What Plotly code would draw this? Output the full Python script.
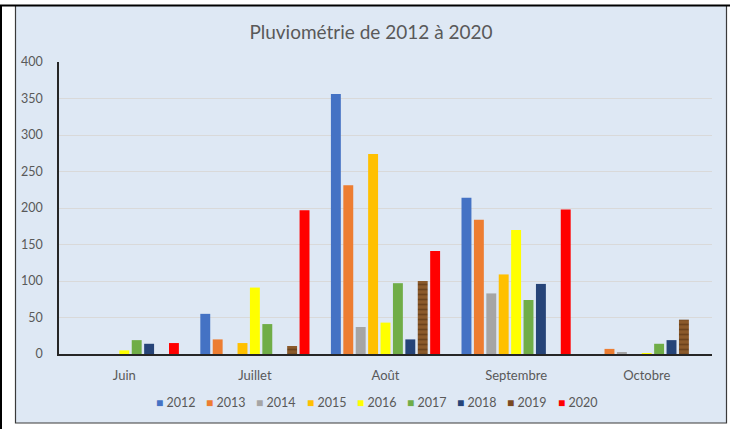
import plotly.graph_objects as go

categories = ["Juin", "Juillet", "Août", "Septembre", "Octobre"]
years = ["2012", "2013", "2014", "2015", "2016", "2017", "2018", "2019", "2020"]

v2012 = [0, 55, 356, 214, 0]
v2013 = [0, 20, 231, 184, 7]
v2014 = [0, 0, 37, 83, 2]
v2015 = [0, 15, 274, 109, 0]
v2016 = [5, 91, 43, 170, 1]
v2017 = [19, 41, 97, 74, 14]
v2018 = [14, 0, 20, 96, 19]
v2019 = [0, 11, 100, 0, 47]
v2020 = [15, 197, 141, 198, 0]
series = [v2012, v2013, v2014, v2015, v2016, v2017, v2018, v2019, v2020]

colors = ["#4472C4", "#ED7D31", "#A5A5A5", "#FFC000", "#FFFF00",
          "#70AD47", "#264478", "#8B5A2B", "#FF0000"]

yticks = [0, 50, 100, 150, 200, 250, 300, 350, 400]

W, H = 730, 429
def px(x):
    return x / W
def py(y):
    return 1 - y / H

FONT = "Lato, 'Open Sans', sans-serif"
GREY = "#595959"

fig = go.Figure()
for name, vals, col in zip(years, series, colors):
    marker = dict(color=col, line=dict(width=0))
    if name == "2019":
        marker["pattern"] = dict(shape="-", fgcolor="#4E2C10", size=5, solidity=0.35)
    fig.add_trace(go.Bar(x=categories, y=vals, name=name, marker=marker,
                         showlegend=False))

shapes = [
    # chart area background + border
    dict(type="rect", xref="paper", yref="paper", layer="below",
         x0=px(15.5), x1=px(726.5), y0=py(423), y1=py(5.5),
         fillcolor="#DEE8F4", line=dict(color="#3A3A3A", width=1.2)),
    # top black line
    dict(type="line", xref="paper", yref="paper", layer="above",
         x0=0, x1=1, y0=py(5.5), y1=py(5.5), line=dict(color="#000000", width=2)),
    # left black band
    dict(type="rect", xref="paper", yref="paper", layer="above",
         x0=0, x1=px(2), y0=0, y1=py(5), fillcolor="#000000", line=dict(width=0)),
]

annotations = []
legend_colors = colors[:7] + ["#7B4A22"] + colors[8:]
for i, (name, col) in enumerate(zip(years, legend_colors)):
    annotations.append(dict(
        xref="paper", yref="paper", x=px(154 + 50.2 * i), y=py(402),
        xanchor="left", yanchor="middle", showarrow=False,
        text=f"<span style='color:{col};font-size:12px'>■</span> {name}",
        font=dict(family=FONT, size=12.5, color=GREY)))

fig.update_layout(
    width=W, height=H, autosize=False,
    margin=dict(l=0, r=0, t=0, b=0, pad=0, autoexpand=False),
    paper_bgcolor="#FFFFFF",
    plot_bgcolor="rgba(0,0,0,0)",
    barmode="group", bargap=0.145, bargroupgap=0.2,
    title=dict(text="Pluviométrie de 2012 à 2020", x=px(371), y=py(32),
               xanchor="center", yanchor="middle", automargin=False,
               font=dict(family=FONT, size=19, color=GREY)),
    xaxis=dict(domain=[px(59), px(712)], showline=True, linecolor="#262626",
               linewidth=1.5, showgrid=False, ticks="", ticklabelstandoff=9,
               automargin=False,
               tickfont=dict(family=FONT, size=13, color=GREY)),
    yaxis=dict(domain=[py(354), py(62)], range=[0, 400], tickvals=yticks,
               showline=True, linecolor="#262626", linewidth=1.5,
               showgrid=True, gridcolor="#D9D9D9", gridwidth=1,
               zeroline=False, ticks="", ticklabelstandoff=12, automargin=False,
               tickfont=dict(family=FONT, size=12.5, color=GREY)),
    shapes=shapes,
    annotations=annotations,
    showlegend=False,
)

fig.write_html("out.html", config={"displayModeBar": False},
               post_script="document.body.style.margin='0';document.body.style.overflow='hidden';")
